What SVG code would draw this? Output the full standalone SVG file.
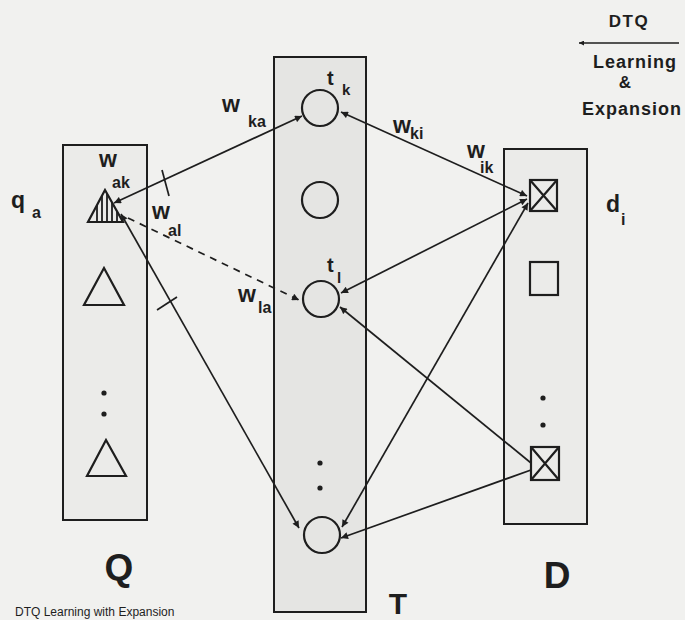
<svg xmlns="http://www.w3.org/2000/svg" width="685" height="620" viewBox="0 0 685 620">
<style>
  .box { stroke: #1e1e1e; stroke-width: 2; }
  .shape { fill: none; stroke: #1e1e1e; stroke-width: 2.2; }
  .conn { fill: none; stroke: #1e1e1e; stroke-width: 1.7; }
  .dash { stroke-dasharray: 7 6; }
  .dot { fill: #1e1e1e; }
  .lbl { font-family: "Liberation Sans", Arial, sans-serif; font-weight: bold; fill: #1e1e1e; }
  .big { font-size: 23px; }
  .sub { font-size: 16px; }
  .cap { font-size: 37px; }
</style>
<defs>
  <marker id="ah" viewBox="0 0 10 10" refX="10" refY="5" markerWidth="9" markerHeight="7" markerUnits="userSpaceOnUse" orient="auto-start-reverse">
    <path d="M0,0 L10,5 L0,10 z" fill="#1e1e1e"/>
  </marker>
  <marker id="ahs" viewBox="0 0 10 10" refX="10" refY="5" markerWidth="7" markerHeight="5" markerUnits="userSpaceOnUse" orient="auto-start-reverse">
    <path d="M0,0 L10,5 L0,10 z" fill="#1e1e1e"/>
  </marker>
  <clipPath id="triClip"><polygon points="105,190 88,222 123,222"/></clipPath>
</defs>
<rect x="0" y="0" width="685" height="620" fill="#f1f1ef"/>

<g id="Q">
  <rect class="box" x="63" y="145" width="84" height="375" fill="#ebebe9"/>
  <g id="q-hatched">
    <polygon class="shape" points="105,190 88,222 123,222"/>
    <g clip-path="url(#triClip)" stroke="#1e1e1e" stroke-width="1.8">
      <line x1="97" y1="188" x2="97" y2="222"/>
      <line x1="102" y1="188" x2="102" y2="222"/>
      <line x1="107" y1="188" x2="107" y2="222"/>
      <line x1="112" y1="188" x2="112" y2="222"/>
      <line x1="117" y1="188" x2="117" y2="222"/>
    </g>
  </g>
  <polygon id="q-tri2" class="shape" points="104,268 84,305 124,305"/>
  <circle class="dot" cx="104" cy="393" r="2.6"/>
  <circle class="dot" cx="104" cy="414" r="2.6"/>
  <polygon id="q-tri3" class="shape" points="106,440 87,476 126,476"/>
  <text class="lbl cap" x="119" y="580" text-anchor="middle">Q</text>
  <text class="lbl big" x="11" y="208">q</text>
  <text class="lbl sub" x="32" y="218">a</text>
</g>

<g id="T">
  <rect class="box" x="274" y="57" width="92" height="555" fill="#e5e5e3"/>
  <circle id="t-k" class="shape" cx="320" cy="108" r="18"/>
  <circle id="t-2" class="shape" cx="320" cy="200" r="18"/>
  <circle id="t-l" class="shape" cx="321" cy="299" r="18"/>
  <circle class="dot" cx="320" cy="463" r="2.6"/>
  <circle class="dot" cx="320" cy="488" r="2.6"/>
  <circle id="t-n" class="shape" cx="322" cy="535" r="18"/>
  <text class="lbl" font-size="20" x="327" y="85">t</text>
  <text class="lbl" font-size="15" x="342" y="95">k</text>
  <text class="lbl" font-size="20" x="327" y="272">t</text>
  <text class="lbl" font-size="15" x="337" y="283">l</text>
  <text class="lbl" font-size="30" x="398" y="614" text-anchor="middle">T</text>
</g>

<g id="D">
  <rect class="box" x="504" y="149" width="83" height="375" fill="#ebebe9"/>
  <g id="d-x1">
    <rect class="shape" x="530" y="180" width="27" height="31"/>
    <path class="shape" d="M530,180 L557,211 M557,180 L530,211" stroke-width="1.8"/>
  </g>
  <rect id="d-sq" class="shape" x="530" y="262" width="28" height="33"/>
  <circle class="dot" cx="543" cy="398" r="2.6"/>
  <circle class="dot" cx="543" cy="425" r="2.6"/>
  <g id="d-x2">
    <rect class="shape" x="531" y="447" width="28" height="33"/>
    <path class="shape" d="M531,447 L559,480 M559,447 L531,480" stroke-width="1.8"/>
  </g>
  <text class="lbl cap" x="557" y="588" text-anchor="middle">D</text>
  <text class="lbl big" x="606" y="212">d</text>
  <text class="lbl sub" x="621" y="225">i</text>
</g>

<g id="connectors">
  <line class="conn" x1="114" y1="203" x2="302" y2="116" marker-start="url(#ah)" marker-end="url(#ah)"/>
  <line class="conn" x1="162" y1="170" x2="169" y2="196"/>
  <line class="conn" x1="341" y1="112" x2="527" y2="196" marker-start="url(#ah)" marker-end="url(#ah)"/>
  <line class="conn" x1="527" y1="199" x2="341" y2="293" marker-start="url(#ah)" marker-end="url(#ah)"/>
  <line class="conn" x1="531" y1="463" x2="340" y2="307" marker-end="url(#ah)"/>
  <line class="conn" x1="531" y1="470" x2="341" y2="538" marker-end="url(#ah)"/>
  <line class="conn" x1="528" y1="203" x2="342" y2="527" marker-start="url(#ah)" marker-end="url(#ah)"/>
  <line class="conn" x1="121" y1="214" x2="299" y2="528" marker-start="url(#ah)" marker-end="url(#ah)"/>
  <line class="conn" x1="157" y1="310" x2="177" y2="297"/>
  <line class="conn dash" x1="128" y1="218" x2="299" y2="300" marker-end="url(#ah)"/>
  <line class="conn" x1="679" y1="43" x2="579" y2="43" stroke-width="1.4" marker-end="url(#ahs)"/>
</g>

<g id="labels">
  <text class="lbl big" x="222" y="112">w</text>
  <text class="lbl sub" x="248" y="127">ka</text>
  <text class="lbl big" x="393" y="133">w</text>
  <text class="lbl sub" x="410" y="139">ki</text>
  <text class="lbl big" x="467" y="158">w</text>
  <text class="lbl sub" x="480" y="173">ik</text>
  <text class="lbl big" x="99" y="167">w</text>
  <text class="lbl sub" x="112" y="188">ak</text>
  <text class="lbl big" x="152" y="219">w</text>
  <text class="lbl sub" x="168" y="236">al</text>
  <text class="lbl big" x="238" y="302">w</text>
  <text class="lbl sub" x="258" y="313">la</text>
  <text class="lbl" font-size="17" x="629" y="27" text-anchor="middle" letter-spacing="1.5">DTQ</text>
  <text class="lbl" font-size="18" x="635" y="68" text-anchor="middle" letter-spacing="1">Learning</text>
  <text class="lbl" font-size="17" x="625" y="88" text-anchor="middle">&amp;</text>
  <text class="lbl" font-size="18" x="632" y="115" text-anchor="middle" font-weight="normal" letter-spacing="1">Expansion</text>
  <text x="15" y="616" font-family="Liberation Sans, Arial, sans-serif" font-size="12" fill="#1e1e1e">DTQ Learning with Expansion</text>
</g>
</svg>
